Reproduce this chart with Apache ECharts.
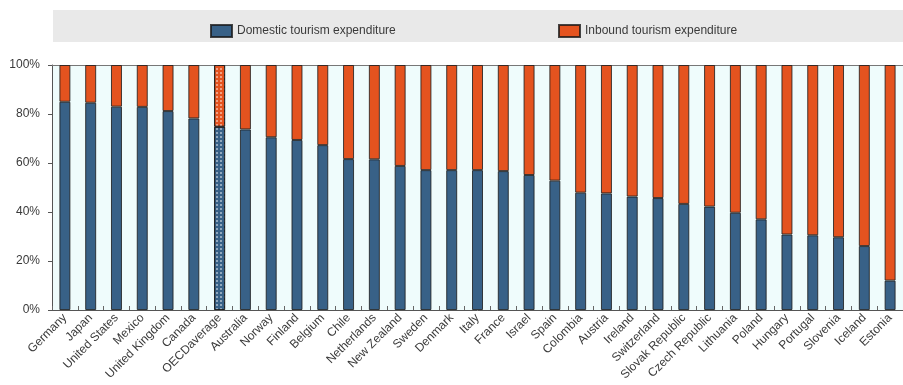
<!DOCTYPE html>
<html>
<head>
<meta charset="utf-8">
<script src="https://cdn.jsdelivr.net/npm/echarts@6/dist/echarts.min.js"></script>
<style>
  html, body { margin: 0; padding: 0; background: #ffffff; }
  #chart { width: 903px; height: 385px; }
</style>
</head>
<body>
<div id="chart"></div>
<script>
// Share of domestic vs inbound tourism expenditure, by country (%)
const countries = [
  'Germany', 'Japan', 'United States', 'Mexico', 'United Kingdom', 'Canada',
  'OECDaverage', 'Australia', 'Norway', 'Finland', 'Belgium', 'Chile',
  'Netherlands', 'New Zealand', 'Sweden', 'Denmark', 'Italy', 'France',
  'Israel', 'Spain', 'Colombia', 'Austria', 'Ireland', 'Switzerland',
  'Slovak Republic', 'Czech Republic', 'Lithuania', 'Poland', 'Hungary',
  'Portugal', 'Slovenia', 'Iceland', 'Estonia'
];
const domestic = [
  85.0, 84.6, 83.0, 82.9, 81.2, 78.2,
  74.8, 73.7, 70.5, 69.4, 67.3, 61.6,
  61.5, 58.8, 57.1, 57.1, 57.1, 56.7,
  55.1, 52.8, 47.9, 47.6, 46.3, 45.7,
  43.3, 42.2, 39.7, 37.0, 30.8,
  30.5, 29.7, 26.1, 12.0
];
const inbound = domestic.map(v => +(100 - v).toFixed(1));
const yTicks = [0, 20, 40, 60, 80, 100];
const averageName = 'OECDaverage';

const domesticColor = '#386187';
const inboundColor = '#e4531f';
// dotted fill used for the OECD average bar
const dots = {
  symbol: 'circle',
  symbolSize: 1,
  dashArrayX: [[2, 1.5]],
  dashArrayY: [2, 1.5],
  color: 'rgba(255,255,255,0.6)'
};

function toData(values) {
  return values.map((v, i) => countries[i] === averageName
    ? { value: v, itemStyle: { decal: dots } }
    : v);
}

const chart = echarts.init(document.getElementById('chart'), null, { renderer: 'canvas' });
const font = 'Arial, "Liberation Sans", sans-serif';

chart.setOption({
  animation: false,
  backgroundColor: '#ffffff',
  graphic: [{
    type: 'rect',
    z: -1,
    shape: { x: 53, y: 10, width: 860, height: 32 },
    style: { fill: '#e9e9e9' }
  }],
  legend: [
    {
      data: ['Domestic tourism expenditure'],
      left: 205, top: 19,
      icon: 'rect', itemWidth: 21, itemHeight: 12, itemGap: 12,
      textStyle: { fontFamily: font, fontSize: 12, color: '#3a3a3a' }
    },
    {
      data: ['Inbound tourism expenditure'],
      left: 553, top: 19,
      icon: 'rect', itemWidth: 21, itemHeight: 12, itemGap: 12,
      textStyle: { fontFamily: font, fontSize: 12, color: '#3a3a3a' }
    }
  ],
  grid: {
    left: 52, right: -4, top: 65, bottom: 75,
    show: true, backgroundColor: '#effcfc', borderWidth: 0
  },
  xAxis: [
    {
      type: 'category',
      data: countries,
      axisLine: { lineStyle: { color: '#555', width: 1 } },
      axisTick: { show: true, inside: true, length: 4, lineStyle: { color: '#666' } },
      axisLabel: {
        interval: 0, rotate: 45, margin: 6,
        fontFamily: font, fontSize: 12, color: '#3a3a3a'
      }
    },
    {
      type: 'category',
      data: countries,
      position: 'top',
      axisLine: { show: true, lineStyle: { color: '#777', width: 1 } },
      axisTick: { show: false },
      axisLabel: { show: false }
    }
  ],
  yAxis: {
    type: 'value',
    min: yTicks[0], max: yTicks[yTicks.length - 1], interval: 20,
    axisLine: { show: true, lineStyle: { color: '#555' } },
    axisTick: { show: true, length: 4, lineStyle: { color: '#555' } },
    splitLine: { show: false },
    axisLabel: {
      formatter: '{value}%', margin: 12,
      fontFamily: font, fontSize: 12, color: '#3a3a3a'
    }
  },
  series: [
    {
      name: 'Domestic tourism expenditure',
      type: 'bar', stack: 'total', barWidth: 11,
      itemStyle: { color: domesticColor, borderColor: 'rgba(25,25,25,0.8)', borderWidth: 1 },
      data: toData(domestic)
    },
    {
      name: 'Inbound tourism expenditure',
      type: 'bar', stack: 'total', barWidth: 11,
      itemStyle: { color: inboundColor, borderColor: 'rgba(25,25,25,0.8)', borderWidth: 1 },
      data: toData(inbound)
    }
  ]
});
</script>
</body>
</html>
